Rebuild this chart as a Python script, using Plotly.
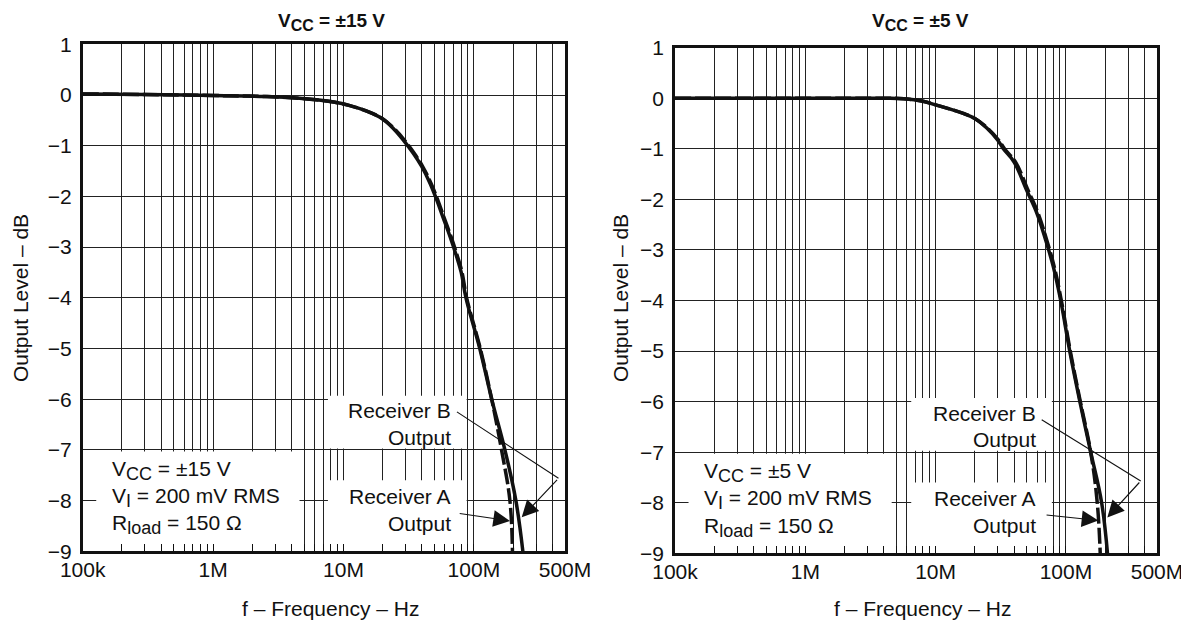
import numpy as np
import plotly.graph_objects as go

# ---------------- data ----------------
# Left panel: VCC = ±15 V   (Receiver B solid, Receiver A dashed)
f_l_b = [1e5, 3e5, 1e6, 2.5e6, 4.6e6, 8.4e6, 1.12e7, 1.51e7, 1.96e7, 2.41e7, 2.88e7, 3.43e7,
         3.98e7, 4.61e7, 5.19e7, 5.83e7, 6.56e7, 7.38e7, 8.0e7, 8.7e7, 1.11e8, 1.37e8,
         1.73e8, 2.1e8, 2.4e8]
db_l_b = [0.02, 0.01, -0.01, -0.03, -0.065, -0.14, -0.21, -0.32, -0.46, -0.66, -0.89, -1.15,
          -1.41, -1.74, -2.07, -2.43, -2.79, -3.19, -3.5, -4.0, -5.0, -6.0,
          -7.0, -8.0, -9.1]
f_l_a = [1e5, 3e5, 1e6, 2.5e6, 4.6e6, 8.4e6, 1.12e7, 1.51e7, 1.97e7, 2.44e7, 2.93e7, 3.49e7,
         4.05e7, 4.69e7, 5.28e7, 5.93e7, 6.67e7, 7.5e7, 8.12e7, 8.8e7, 1.12e8, 1.37e8,
         1.63e8, 1.89e8, 1.98e8]
db_l_a = [0.02, 0.01, -0.01, -0.03, -0.065, -0.14, -0.21, -0.32, -0.46, -0.66, -0.89, -1.15,
          -1.41, -1.74, -2.07, -2.43, -2.79, -3.19, -3.5, -4.0, -5.0, -6.0,
          -7.0, -8.0, -9.1]

# Right panel: VCC = ±5 V
f_r_b = [1e5, 1e6, 4e6, 5.7e6, 8e6, 1e7, 1.63e7, 2e7, 2.47e7, 3e7, 3.31e7, 4e7, 5e7, 6e7,
         7e7, 8e7, 9.12e7, 1.07e8, 1.28e8, 1.55e8, 1.88e8, 2.1e8]
db_r_b = [0.0, 0.0, 0.0, -0.01, -0.06, -0.13, -0.30, -0.40, -0.59, -0.83, -1.0, -1.26,
          -1.82, -2.28, -2.81, -3.33, -4.0, -5.0, -6.0, -7.0, -8.0, -9.1]
f_r_a = [1e5, 1e6, 4e6, 5.7e6, 8e6, 1e7, 1.63e7, 2e7, 2.5e7, 3.05e7, 3.38e7, 4.1e7, 5.12e7,
         6.13e7, 7.13e7, 8.13e7, 9.22e7, 1.08e8, 1.29e8, 1.55e8, 1.74e8, 1.84e8]
db_r_a = [0.0, 0.0, 0.0, -0.01, -0.06, -0.13, -0.30, -0.40, -0.59, -0.83, -1.0, -1.26,
          -1.82, -2.28, -2.81, -3.33, -4.0, -5.0, -6.0, -7.0, -8.0, -9.1]

# ticks
x_label_vals = [1e5, 1e6, 1e7, 1e8, 5e8]
x_label_text = ["100k", "1M", "10M", "100M", "500M"]
x_minor_vals = [m * 10.0**e for e in (5, 6, 7) for m in range(2, 10)] + [2e8, 3e8, 4e8]
y_tick_vals = [1, 0, -1, -2, -3, -4, -5, -6, -7, -8, -9]
y_tick_text = ["1", "0", "\u22121", "\u22122", "\u22123", "\u22124", "\u22125", "\u22126",
               "\u22127", "\u22128", "\u22129"]


def sub(s, px):
    return '<sub><span style="font-size:%dpx">%s</span></sub>' % (px, s)


titles = ["V" + sub("CC", 16) + " = \u00b115 V", "V" + sub("CC", 16) + " = \u00b15 V"]
cond_lines = [["V" + sub("CC", 18) + " = \u00b115 V", "V" + sub("I", 18) + " = 200 mV RMS",
               "R" + sub("load", 18) + " = 150 \u03a9"],
              ["V" + sub("CC", 18) + " = \u00b15 V", "V" + sub("I", 18) + " = 200 mV RMS",
               "R" + sub("load", 18) + " = 150 \u03a9"]]
x_title = "f \u2013 Frequency \u2013 Hz"
y_title = "Output Level \u2013 dB"

# ---------------- figure ----------------
FONT = "Liberation Sans, Arial, sans-serif"
OFF = 8                      # page body margin
W, H = 1189 - OFF, 625 - OFF
FS = 21


def px_x(p):
    return (p - OFF) / W


def px_y(p):
    return 1 - (p - OFF) / H


fig = go.Figure()

panels = [
    dict(x="x", y="y", fa=f_l_a, da=db_l_a, fb=f_l_b, db=db_l_b),
    dict(x="x2", y="y2", fa=f_r_a, da=db_r_a, fb=f_r_b, db=db_r_b),
]
for p in panels:
    fig.add_trace(go.Scatter(x=p["fa"], y=p["da"], mode="lines", xaxis=p["x"], yaxis=p["y"],
                             line=dict(color="#111", width=3.5, dash="16px,4px",
                                       shape="spline", smoothing=1.1),
                             showlegend=False, hoverinfo="skip"))
    fig.add_trace(go.Scatter(x=p["fb"], y=p["db"], mode="lines", xaxis=p["x"], yaxis=p["y"],
                             line=dict(color="#111", width=3.5, shape="spline", smoothing=1.1),
                             showlegend=False, hoverinfo="skip"))


def xax(domain, anchor):
    return dict(type="log", range=[5, np.log10(5e8)], domain=domain, anchor=anchor,
                tickmode="array", tickvals=x_label_vals, ticktext=x_label_text,
                ticks="inside", ticklen=8, tickcolor="#111", tickwidth=1,
                showgrid=True, gridcolor="#222", gridwidth=1,
                minor=dict(tickmode="array", tickvals=x_minor_vals, ticks="inside", ticklen=8,
                           tickcolor="#111", tickwidth=1, showgrid=True, gridcolor="#222",
                           gridwidth=1),
                showline=True, linecolor="#111", linewidth=2.6, mirror=True,
                zeroline=False, tickfont=dict(size=FS, color="#111", family=FONT),
                ticklabelstandoff=-2, automargin=False, fixedrange=True)


def yax(domain, anchor):
    return dict(range=[-9, 1], domain=domain, anchor=anchor, tickmode="array",
                tickvals=y_tick_vals, ticktext=y_tick_text, ticks="", showgrid=True,
                gridcolor="#222", gridwidth=1, showline=True, linecolor="#111", linewidth=2.6,
                mirror=True, zeroline=False, tickfont=dict(size=FS, color="#111", family=FONT),
                ticklabelstandoff=4, automargin=False, fixedrange=True)


fig.update_layout(
    width=W, height=H, template="none",
    margin=dict(l=0, r=0, t=0, b=0),
    paper_bgcolor="white", plot_bgcolor="white",
    font=dict(family=FONT, color="#111", size=FS),
    xaxis=xax([px_x(82.7), px_x(565)], "y"),
    yaxis=yax([px_y(551.3), px_y(44.3)], "x"),
    xaxis2=xax([px_x(675), px_x(1157)], "y2"),
    yaxis2=yax([px_y(553.3), px_y(47.7)], "x2"),
)

shapes = []
annotations = []
deco = [
    dict(x="x", y="y", recv_x0=7.6e6, recv_x1=8.8e7, text_right=7.837,
         b_start=(7.870, -6.25), b_vertex=(8.649, -7.56), b_tip=(8.367, -8.33),
         a_start=(7.880, -8.25), a_tip=(8.277, -8.40), title_x=331, xt_x=330, yt_x=20),
    dict(x="x2", y="y2", recv_x0=6.5e6, recv_x1=7.8e7, text_right=7.788,
         b_start=(7.814, -6.36), b_vertex=(8.574, -7.57), b_tip=(8.318, -8.29),
         a_start=(7.840, -8.24), a_tip=(8.249, -8.35), title_x=920, xt_x=922, yt_x=620),
]
for i, d in enumerate(deco):
    box = dict(type="rect", xref=d["x"], yref=d["y"], layer="between",
               fillcolor="white", line=dict(width=0))
    shapes.append(dict(box, x0=1.27e5, x1=4.6e6, y0=-9, y1=-7.03))
    shapes.append(dict(box, x0=d["recv_x0"], x1=d["recv_x1"], y0=-6.97, y1=-5.93))
    shapes.append(dict(box, x0=d["recv_x0"], x1=d["recv_x1"], y0=-9, y1=-7.6))
    shapes.append(dict(type="line", xref=d["x"], yref=d["y"], layer="above",
                       x0=10 ** d["b_start"][0], y0=d["b_start"][1],
                       x1=10 ** d["b_vertex"][0], y1=d["b_vertex"][1],
                       line=dict(color="#111", width=1.1)))
    for (sx, sy), (tx, ty) in [(d["b_vertex"], d["b_tip"]), (d["a_start"], d["a_tip"])]:
        annotations.append(dict(xref=d["x"], yref=d["y"], axref=d["x"], ayref=d["y"],
                                x=tx, y=ty, ax=sx, ay=sy, text="", showarrow=True,
                                arrowhead=2, arrowsize=2.9, arrowwidth=1.15, arrowcolor="#111"))
    for txt, yy in [("Receiver B", -6.23), ("Output", -6.75), ("Receiver A", -7.91), ("Output", -8.45)]:
        annotations.append(dict(xref=d["x"], yref=d["y"], x=d["text_right"], y=yy, text=txt,
                                showarrow=False, xanchor="right", yanchor="middle",
                                font=dict(size=FS, color="#111", family=FONT)))
    for txt, yy in zip(cond_lines[i], [-7.40, -7.93, -8.48]):
        annotations.append(dict(xref=d["x"], yref=d["y"], x=5.21, y=yy, text=txt,
                                showarrow=False, xanchor="left", yanchor="middle",
                                font=dict(size=FS, color="#111", family=FONT)))
    annotations.append(dict(xref="paper", yref="paper", x=px_x(d["title_x"]), y=px_y(8),
                            text="<b>" + titles[i] + "</b>", showarrow=False,
                            xanchor="center", yanchor="top",
                            font=dict(size=19, color="#111", family=FONT)))
    annotations.append(dict(xref="paper", yref="paper", x=px_x(d["xt_x"]), y=px_y(608),
                            text=x_title, showarrow=False, xanchor="center", yanchor="middle",
                            font=dict(size=FS, color="#111", family=FONT)))
    annotations.append(dict(xref="paper", yref="paper", x=px_x(d["yt_x"]), y=px_y(298),
                            text=y_title, showarrow=False, textangle=-90,
                            xanchor="center", yanchor="middle",
                            font=dict(size=FS, color="#111", family=FONT)))

fig.update_layout(shapes=shapes, annotations=annotations)
fig.write_html("out.html")
